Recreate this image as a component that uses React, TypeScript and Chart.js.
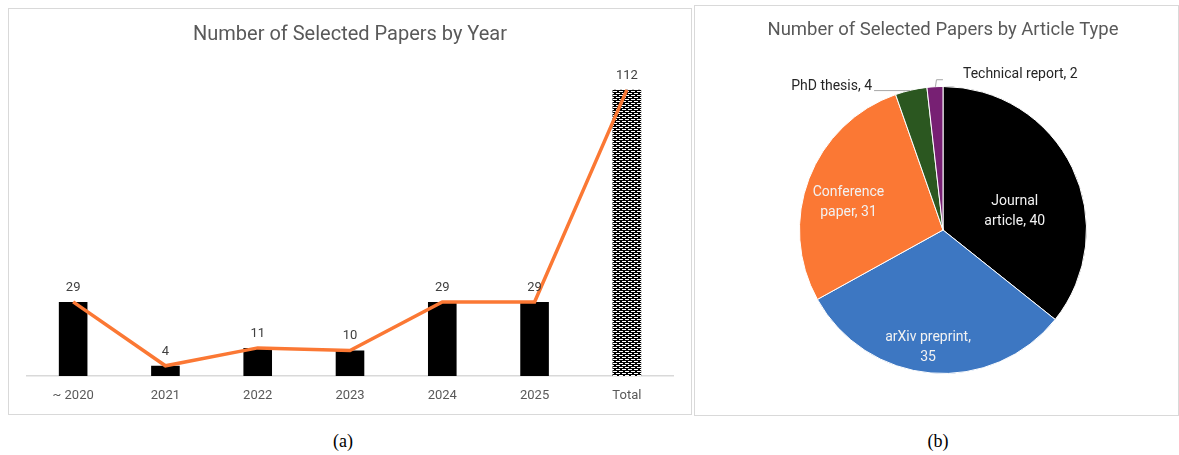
import { useEffect, useRef } from "react";
import { Chart, registerables } from "chart.js";

Chart.register(...registerables);

// ---------- data ----------
const yearCategories = ["~ 2020", "2021", "2022", "2023", "2024", "2025", "Total"];
const yearCounts = [29, 4, 11, 10, 29, 29, 112];
const yearAxisMax = 120;

const typeLabels = ["Journal article", "arXiv preprint", "Conference paper", "PhD thesis", "Technical report"];
const typeCounts = [40, 35, 31, 4, 2];

// ---------- styles ----------
const FONT = "Roboto, 'Noto Sans', sans-serif";
const ORANGE = "#FB7834";
const typeColors = ["#000000", "#3D77C2", ORANGE, "#2B5720", "#772073"];
// label placement for each pie slice (style only)
const pieLabelStyle: any[] = [
  { mode: "inside", r: 0.555, dx: 0, dy: 16, breakAfter: 1 },
  { mode: "inside", r: 0.825, dx: -5, dy: 0, breakAfter: 2 },
  { mode: "inside", r: 0.69, dx: -2, dy: 8, breakAfter: 1 },
  { mode: "left" },
  { mode: "up" },
];

function makePattern(): CanvasPattern | string {
  const c = document.createElement("canvas");
  c.width = 6;
  c.height = 4;
  const g = c.getContext("2d");
  if (!g) return "#000";
  g.fillStyle = "#000";
  g.fillRect(0, 0, 6, 4);
  g.fillStyle = "#fff";
  g.fillRect(1, 0, 4, 1);
  g.fillRect(4, 2, 4, 1);
  g.fillRect(-2, 2, 4, 1);
  const p = g.createPattern(c, "repeat");
  return p || "#000";
}

const barLabelPlugin = {
  id: "barLabels",
  afterDatasetsDraw(chart: any) {
    const ctx = chart.ctx;
    const meta = chart.getDatasetMeta(0);
    ctx.save();
    ctx.font = `13px ${FONT}`;
    ctx.fillStyle = "#404040";
    ctx.textAlign = "center";
    ctx.textBaseline = "bottom";
    meta.data.forEach((bar: any, i: number) => {
      ctx.fillText(String(yearCounts[i]), bar.x, bar.y - 8);
    });
    ctx.restore();
  },
};

const pieLabelPlugin = {
  id: "pieLabels",
  afterDatasetsDraw(chart: any) {
    const ctx = chart.ctx;
    const meta = chart.getDatasetMeta(0);
    ctx.save();
    ctx.font = `14px ${FONT}`;
    meta.data.forEach((arc: any, i: number) => {
      const { x, y, startAngle, endAngle, outerRadius } = arc.getProps(
        ["x", "y", "startAngle", "endAngle", "outerRadius"],
        true
      );
      const mid = (startAngle + endAngle) / 2;
      const st = pieLabelStyle[i];
      const text = `${typeLabels[i]}, ${typeCounts[i]}`;
      if (st.mode === "inside") {
        const words = text.split(" ");
        const lines = [words.slice(0, st.breakAfter).join(" "), words.slice(st.breakAfter).join(" ")];
        const cx = x + Math.cos(mid) * outerRadius * st.r + st.dx;
        const cy = y + Math.sin(mid) * outerRadius * st.r + st.dy;
        ctx.fillStyle = "#F2F2F2";
        ctx.textAlign = "center";
        ctx.textBaseline = "middle";
        const lh = 20;
        lines.forEach((ln, k) => {
          ctx.fillText(ln, cx, cy + (k - (lines.length - 1) / 2) * lh);
        });
      } else {
        const ex = x + Math.cos(mid) * outerRadius;
        const ey = y + Math.sin(mid) * outerRadius;
        ctx.strokeStyle = "#A6A6A6";
        ctx.lineWidth = 1;
        ctx.fillStyle = "#262626";
        ctx.textBaseline = "middle";
        ctx.beginPath();
        if (st.mode === "left") {
          ctx.moveTo(ex - 1, ey + 0.5);
          ctx.lineTo(ex - 37, ey + 0.5);
          ctx.stroke();
          ctx.textAlign = "right";
          ctx.fillText(text, ex - 39, ey - 4);
        } else {
          ctx.moveTo(ex + 0.5, ey);
          ctx.lineTo(ex + 1.5, ey - 7);
          ctx.lineTo(ex + 8, ey - 7);
          ctx.stroke();
          ctx.textAlign = "left";
          ctx.fillText(text, ex + 28, ey - 12);
        }
      }
    });
    ctx.restore();
  },
};

function YearChart() {
  const ref = useRef<HTMLCanvasElement>(null);
  useEffect(() => {
    if (!ref.current) return;
    const pattern = makePattern();
    const barColors = yearCategories.map((_, i) => (i === yearCategories.length - 1 ? pattern : "#000000"));
    const chart = new Chart(ref.current, {
      type: "bar",
      data: {
        labels: yearCategories,
        datasets: [
          {
            type: "bar",
            data: yearCounts,
            backgroundColor: barColors as any,
            barPercentage: 0.62,
            categoryPercentage: 0.5,
            order: 1,
          },
          {
            type: "line",
            data: yearCounts,
            borderColor: ORANGE,
            borderWidth: 3.5,
            pointRadius: 0,
            tension: 0,
            order: 0,
          } as any,
        ],
      },
      options: {
        animation: false,
        responsive: false,
        devicePixelRatio: 1,
        layout: { padding: { left: 18, right: 18, top: 0, bottom: 0 } },
        plugins: {
          legend: { display: false },
          tooltip: { enabled: false },
          title: {
            display: true,
            text: "Number of Selected Papers by Year",
            color: "#595959",
            font: { family: FONT, size: 20, weight: "normal" },
            padding: { top: 14, bottom: 22.4 },
          },
        },
        scales: {
          x: {
            grid: { display: false, drawTicks: false },
            border: { display: true, color: "#D9D9D9", width: 1.5 },
            ticks: { color: "#595959", font: { family: FONT, size: 13 }, padding: 12 },
            afterFit: (s: any) => {
              s.height = 38;
            },
          },
          y: { display: false, min: 0, max: yearAxisMax },
        },
      },
      plugins: [barLabelPlugin],
    });
    return () => chart.destroy();
  }, []);
  return <canvas ref={ref} width={682} height={405} style={{ display: "block" }} />;
}

function TypeChart() {
  const ref = useRef<HTMLCanvasElement>(null);
  useEffect(() => {
    if (!ref.current) return;
    const chart = new Chart(ref.current, {
      type: "pie",
      data: {
        labels: typeLabels,
        datasets: [
          {
            data: typeCounts,
            backgroundColor: typeColors,
            borderColor: "#FFFFFF",
            borderWidth: 1,
          },
        ],
      },
      options: {
        animation: false,
        responsive: false,
        devicePixelRatio: 1,
        layout: { padding: { left: 13, right: 0, top: 0, bottom: 41 } },
        plugins: {
          legend: { display: false },
          tooltip: { enabled: false },
          title: {
            display: true,
            text: "Number of Selected Papers by Article Type",
            color: "#595959",
            font: { family: FONT, size: 18.5, weight: "normal" },
            padding: { top: 12.9, bottom: 44.9 },
          },
        },
      },
      plugins: [pieLabelPlugin],
    });
    return () => chart.destroy();
  }, []);
  return <canvas ref={ref} width={483} height={409} style={{ display: "block" }} />;
}

export default function App() {
  const panel = { position: "absolute" as const, border: "1px solid #D9D9D9", background: "#fff" };
  const caption = {
    position: "absolute" as const,
    fontFamily: "'Liberation Serif', 'Times New Roman', serif",
    fontSize: 18,
    color: "#000",
    width: 100,
    textAlign: "center" as const,
    top: 430,
    lineHeight: "22px",
  };
  return (
    <div style={{ position: "absolute", left: 0, top: 0, width: 1179, height: 455, background: "#fff" }}>
      <div style={{ ...panel, left: 8, top: 8, width: 682, height: 405 }}>
        <YearChart />
      </div>
      <div style={{ ...panel, left: 694, top: 5, width: 483, height: 409 }}>
        <TypeChart />
      </div>
      <div style={{ ...caption, left: 293 }}>(a)</div>
      <div style={{ ...caption, left: 888 }}>(b)</div>
    </div>
  );
}
